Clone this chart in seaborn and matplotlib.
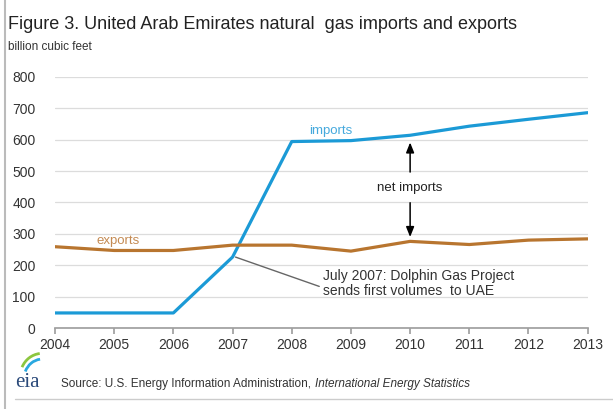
import pandas as pd
import seaborn as sns
import matplotlib
matplotlib.use("Agg")
from matplotlib import pyplot as plt
from matplotlib.patches import Arc

years = [2004, 2005, 2006, 2007, 2008, 2009, 2010, 2011, 2012, 2013]
imports = [48, 48, 48, 226, 594, 597, 614, 643, 665, 686]
exports = [259, 247, 247, 264, 264, 245, 276, 266, 280, 284]

blue = "#1b9ad6"
brown = "#b8752f"

sns.set_theme(style="white")
plt.rcParams["font.family"] = ["Liberation Sans", "DejaVu Sans"]

df = pd.DataFrame({"year": years, "imports": imports, "exports": exports})
long = df.melt(id_vars="year", var_name="series", value_name="bcf")

fig = plt.figure(figsize=(6.13, 4.09), dpi=100)
ax = fig.add_axes([0.0897, 0.198, 0.869, 0.614])

sns.lineplot(data=long, x="year", y="bcf", hue="series",
             palette={"imports": blue, "exports": brown},
             linewidth=2.3, legend=False, ax=ax)

ax.set_xlim(2004, 2013)
ax.set_ylim(0, 800)
ax.set_xticks(years)
ax.set_yticks(range(0, 801, 100))
ax.set_xlabel("")
ax.set_ylabel("")
ax.yaxis.grid(True, color="#dcdcdc", linewidth=0.9)
for s in ["top", "right", "left"]:
    ax.spines[s].set_visible(False)
ax.spines["bottom"].set_color("#a0a0a0")
ax.tick_params(axis="x", bottom=True, length=4, color="#a0a0a0",
               labelsize=10, labelcolor="#333333", pad=3)
ax.tick_params(axis="y", left=False, labelsize=10, labelcolor="#333333", pad=8)

# annotations
ax.text(2008.3, 618, "imports", color="#45a9dd", fontsize=9.5)
ax.text(2004.7, 268, "exports", color="#c48a52", fontsize=9.5)
ax.text(2010.0, 445, "net imports", color="#222222", fontsize=9.5,
        ha="center", va="center")
arrow = dict(arrowstyle="-|>,head_length=0.5,head_width=0.2", color="black", lw=1.1)
ax.annotate("", xy=(2010.0, 600), xytext=(2010.0, 488), arrowprops=arrow)
ax.annotate("", xy=(2010.0, 281), xytext=(2010.0, 408), arrowprops=arrow)
ax.annotate("July 2007: Dolphin Gas Project\nsends first volumes  to UAE",
            xy=(2007.05, 226), xytext=(2008.52, 188),
            fontsize=10, color="#333333", va="top", linespacing=1.05,
            arrowprops=dict(arrowstyle="-", color="#666666", lw=1,
                            shrinkA=0, shrinkB=0, relpos=(0, 0.35)))

# header
fig.text(0.013, 0.93, "Figure 3. United Arab Emirates natural  gas imports and exports",
         fontsize=13, color="#222222")
fig.text(0.013, 0.878, "billion cubic feet", fontsize=8.5, color="#333333")

# footer
fig.text(0.024, 0.053, "eia", family=["Liberation Serif", "DejaVu Serif"],
         fontsize=15, color="#2b4a7a")
logo = fig.add_axes([0.018, 0.08, 0.06, 0.07])
logo.set_xlim(0, 1)
logo.set_ylim(0, 1)
logo.axis("off")
logo.add_patch(Arc((0.85, 0.0), 1.2, 1.6, theta1=95, theta2=150, color="#8cc63f", lw=2))
logo.add_patch(Arc((0.85, -0.1), 1.0, 1.4, theta1=95, theta2=150, color="#29a8e0", lw=2))
src = fig.text(0.1, 0.055, "Source: U.S. Energy Information Administration, ",
               fontsize=8.5, color="#333333")
ax.annotate("International Energy Statistics", xy=(1, 0), xycoords=src,
            fontsize=8.5, color="#333333", style="italic", va="bottom",
            annotation_clip=False)
fig.add_artist(plt.Line2D([0.025, 1.0], [0.025, 0.025], color="#cccccc", lw=1))
fig.add_artist(plt.Line2D([0.008, 0.008], [0.0, 1.0], color="#bbbbbb", lw=1.5))

fig.savefig("out.png", dpi=100)
